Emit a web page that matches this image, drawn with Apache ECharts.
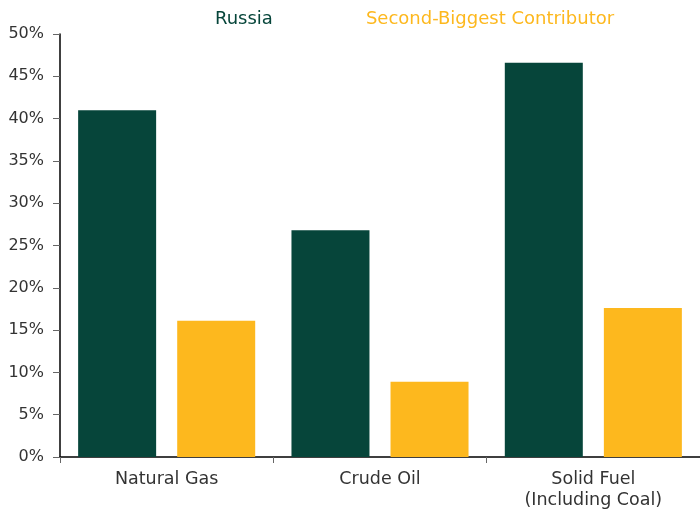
<!DOCTYPE html>
<html>
<head>
<meta charset="utf-8">
<script src="https://cdn.jsdelivr.net/npm/echarts@6/dist/echarts.min.js"></script>
<style>
  html, body { margin: 0; padding: 0; background: #fff; }
  #chart { width: 700px; height: 513px; }
</style>
</head>
<body>
<div id="chart"></div>
<script>
// data
const categories = ["Natural Gas", "Crude Oil", "Solid Fuel\n(Including Coal)"];
const russia = [41.0, 26.8, 46.6];
const secondBiggest = [16.1, 8.9, 17.6];
const yTicks = [0, 5, 10, 15, 20, 25, 30, 35, 40, 45, 50];

const GREEN = "#06453a";
const YELLOW = "#fdb81e";
const FONT = "'DejaVu Sans', 'Noto Sans', sans-serif";

const chart = echarts.init(document.getElementById("chart"));

const option = {
  animation: false,
  textStyle: { fontFamily: FONT },
  legend: {
    top: 5,
    left: 205,
    icon: "none",
    itemWidth: 0,
    itemGap: 88,
    selectedMode: false,
    textStyle: { fontSize: 18, fontFamily: FONT },
    data: [
      { name: "Russia", textStyle: { color: GREEN } },
      { name: "Second-Biggest Contributor", textStyle: { color: YELLOW } },
    ],
  },
  grid: {
    left: 60,
    width: 646,
    top: 34,
    height: 423,
  },
  xAxis: {
    type: "category",
    data: categories,
    axisLine: { lineStyle: { color: "#000", width: 1.5 } },
    axisTick: { show: true, length: 6, lineStyle: { color: "#666" } },
    axisLabel: {
      color: "#333",
      fontSize: 17.5,
      margin: 12,
      lineHeight: 21,
    },
  },
  yAxis: {
    type: "value",
    min: yTicks[0],
    max: yTicks[yTicks.length - 1],
    interval: 5,
    splitLine: { show: false },
    axisLine: { show: true, lineStyle: { color: "#000", width: 1.5 } },
    axisTick: { show: true, length: 7, lineStyle: { color: "#666" } },
    axisLabel: {
      color: "#333",
      fontSize: 16,
      margin: 16,
      formatter: (v) => v + "%",
    },
  },
  series: [
    {
      name: "Russia",
      type: "bar",
      data: russia,
      barWidth: 78,
      barGap: "27%",
      itemStyle: { color: GREEN },
    },
    {
      name: "Second-Biggest Contributor",
      type: "bar",
      data: secondBiggest,
      barWidth: 78,
      itemStyle: { color: YELLOW },
    },
  ],
};

chart.setOption(option);
</script>
</body>
</html>
